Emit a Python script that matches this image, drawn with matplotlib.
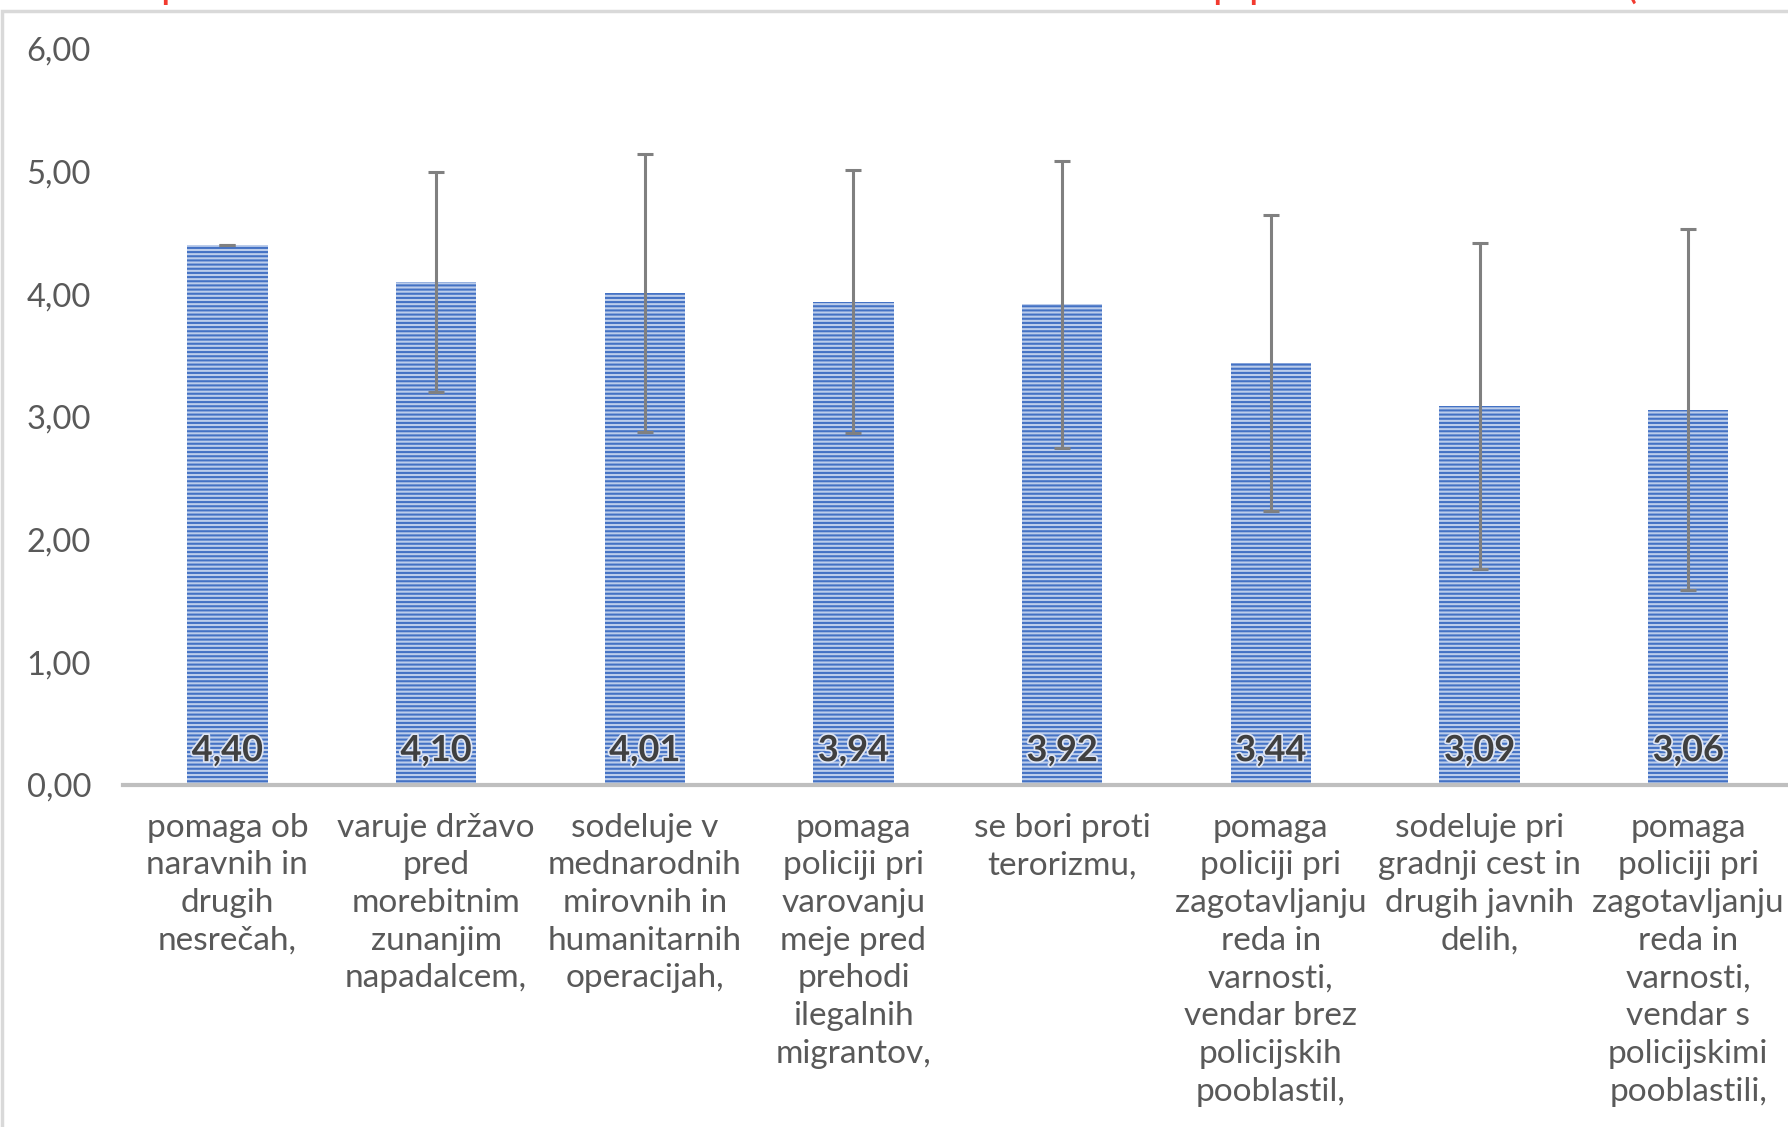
import matplotlib
matplotlib.use('Agg')
import matplotlib.pyplot as plt
import matplotlib.patheffects as pe
from matplotlib.patches import Rectangle

plt.rcParams['font.family'] = ['Lato', 'DejaVu Sans']
plt.rcParams['hatch.linewidth'] = 1.5
plt.rcParams['hatch.color'] = '#4472c4'

# categories (Slovene survey items) and their mean scores
categories = [
    "pomaga ob\nnaravnih in\ndrugih\nnesrečah,",
    "varuje državo\npred\nmorebitnim\nzunanjim\nnapadalcem,",
    "sodeluje v\nmednarodnih\nmirovnih in\nhumanitarnih\noperacijah,",
    "pomaga\npoliciji pri\nvarovanju\nmeje pred\nprehodi\nilegalnih\nmigrantov,",
    "se bori proti\nterorizmu,",
    "pomaga\npoliciji pri\nzagotavljanju\nreda in\nvarnosti,\nvendar brez\npolicijskih\npooblastil,",
    "sodeluje pri\ngradnji cest in\ndrugih javnih\ndelih,",
    "pomaga\npoliciji pri\nzagotavljanju\nreda in\nvarnosti,\nvendar s\npolicijskimi\npooblastili,",
]
means = [4.40, 4.10, 4.01, 3.94, 3.92, 3.44, 3.09, 3.06]
errors = [0.0, 0.90, 1.13, 1.07, 1.17, 1.21, 1.33, 1.47]
yticks = [0, 1, 2, 3, 4, 5, 6]

W, H = 1788, 1127
fig = plt.figure(figsize=(W / 100, H / 100), dpi=100)

# axes placed in pixel terms of the original screenshot
left, right = 123, 123 + 8 * 208.7
top, bottom = 49, 785
ax = fig.add_axes([left / W, 1 - bottom / H, (right - left) / W, (bottom - top) / H])

x = list(range(len(means)))
ax.bar(x, means, width=0.385, color='#bccdeb', hatch='----', edgecolor='#4472c4',
       linewidth=0, zorder=2)
ax.errorbar(x, means, yerr=errors, fmt='none', ecolor='#808080', elinewidth=2.2,
            capsize=6, capthick=2.2, zorder=3)

for xi, m in zip(x, means):
    ax.text(xi, 0.28, f"{m:.2f}".replace('.', ','), ha='center', va='center',
            fontsize=26, fontweight='bold', color='#404040', zorder=4,
            path_effects=[pe.withStroke(linewidth=2.5, foreground='#dfe6f5')])

ax.set_xlim(-0.5, 7.5)
ax.set_ylim(0, 6)
ax.set_yticks(yticks)
ax.set_yticklabels([f"{v:.2f}".replace('.', ',') for v in yticks])
ax.set_xticks(x)
ax.set_xticklabels(categories, linespacing=1.32, va='top')
ax.tick_params(axis='y', length=0, pad=23, labelsize=23.5, labelcolor='#595959')
ax.tick_params(axis='x', length=0, pad=20, labelsize=24, labelcolor='#595959')

for s in ['top', 'right', 'left']:
    ax.spines[s].set_visible(False)
ax.spines['bottom'].set_color('#bfbfbf')
ax.spines['bottom'].set_linewidth(3)

# chart area border (light gray), extends past the right and bottom edge
fig.add_artist(Rectangle((2 / W, -0.1), 1.1, 1 - 11 / H + 0.1, transform=fig.transFigure,
                         fill=False, edgecolor='#d9d9d9', linewidth=2.5, zorder=0))

# cut-off red title remnants at the very top
for px, ch in [(172, 'p'), (1224, 'p'), (1260, 'p'), (1631, '(')]:
    fig.text(px / W, 1 + 2 / H, ch, color='#f23a2f', fontsize=30, ha='center',
             va='baseline')

fig.savefig('out.png', dpi=100)
